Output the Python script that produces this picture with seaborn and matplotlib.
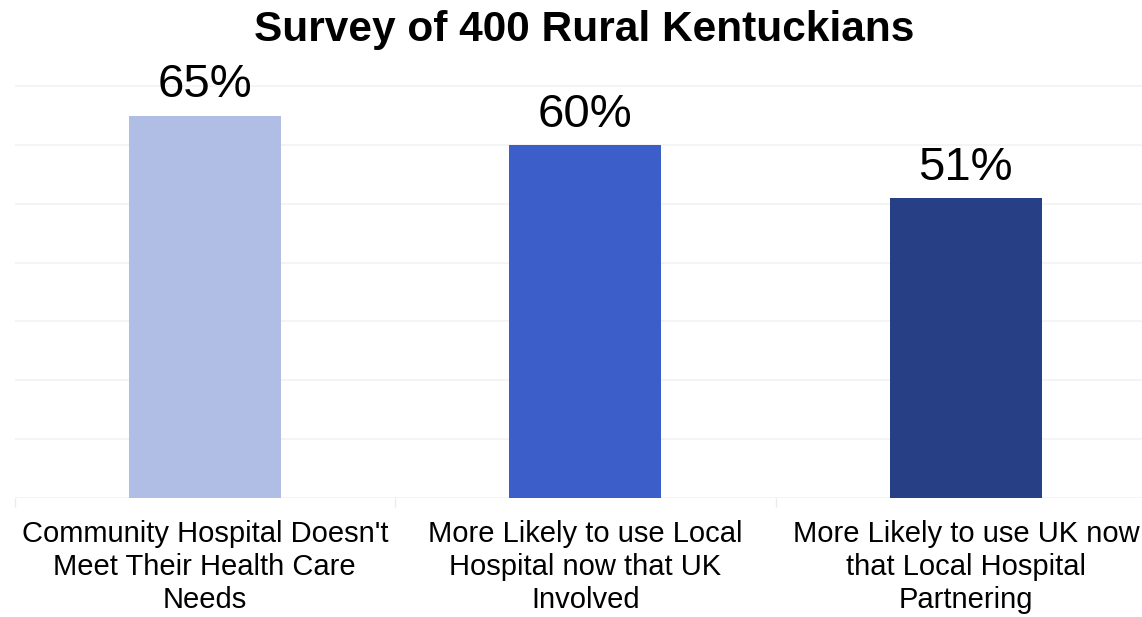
import matplotlib
matplotlib.use("Agg")
import matplotlib.pyplot as plt
import seaborn as sns
import pandas as pd
from matplotlib.ticker import FixedLocator

# Survey results
categories = [
    "Community Hospital Doesn't\nMeet Their Health Care\nNeeds",
    "More Likely to use Local\nHospital now that UK\nInvolved",
    "More Likely to use UK now\nthat Local Hospital\nPartnering",
]
percent = [65, 60, 51]
bar_colors = ["#B0BEE6", "#3C5EC8", "#273F84"]

df = pd.DataFrame({"category": categories, "percent": percent})

sns.set_style("white")
plt.rcParams["font.family"] = ["Liberation Sans", "DejaVu Sans"]
plt.rcParams["text.color"] = "black"
plt.rcParams["xtick.labelcolor"] = "black"

fig = plt.figure(figsize=(11.42, 6.17), dpi=100)
ax = fig.add_axes([0.0127, 0.1929, 0.9873, 0.6865])

sns.barplot(data=df, x="category", y="percent", hue="category",
            palette=bar_colors, width=0.4, legend=False, ax=ax,
            saturation=1, linewidth=0)

ax.set_xlim(-0.5, 2.463)
ax.set_ylim(0, 72)
ax.set_yticks(range(0, 71, 10))
ax.yaxis.grid(True, color="#F2F2F2", linewidth=1.2)
ax.set_axisbelow(True)
for s in ax.spines.values():
    s.set_visible(False)

ax.set_xlabel("")
ax.set_ylabel("")
ax.tick_params(axis="y", left=False, labelleft=False)
ax.tick_params(axis="x", which="major", length=0, pad=16, labelsize=21,
               labelcolor="black")
ax.xaxis.set_minor_locator(FixedLocator([-0.5, 0.5, 1.5]))
ax.tick_params(axis="x", which="minor", bottom=True, length=6.5, width=1,
               color="#EBEBEB")
for lbl in ax.get_xticklabels():
    lbl.set_linespacing(1.22)

for i, v in enumerate(percent):
    ax.annotate(f"{v}%", xy=(i, v), xytext=(0, 6), textcoords="offset points",
                ha="center", va="bottom", fontsize=34, color="black",
                annotation_clip=False)

fig.text(0.5115, 1 - 30 / 617, "Survey of 400 Rural Kentuckians",
         ha="center", va="center", fontsize=30.5, fontweight="bold",
         color="black")

fig.savefig("out.png", dpi=100)
